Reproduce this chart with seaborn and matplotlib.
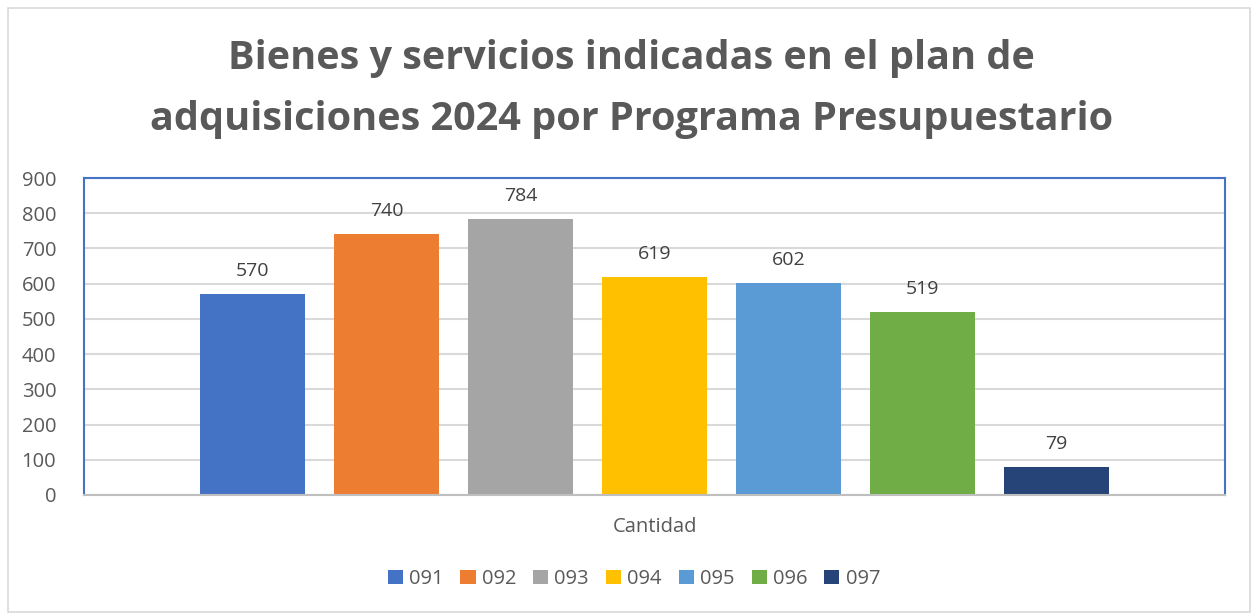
import matplotlib

matplotlib.use("Agg")
import matplotlib.pyplot as plt
import pandas as pd
import seaborn as sns
from matplotlib.patches import Rectangle

PROGRAMS = ["091", "092", "093", "094", "095", "096", "097"]
VALUES = [570, 740, 784, 619, 602, 519, 79]
CATEGORY = "Cantidad"
COLORS = ["#4472C4", "#ED7D31", "#A5A5A5", "#FFC000", "#5B9BD5", "#70AD47", "#264478"]
TITLE = "Bienes y servicios indicadas en el plan de\nadquisiciones 2024 por Programa Presupuestario"

sns.set_theme(style="white")
plt.rcParams["font.family"] = ["Open Sans", "DejaVu Sans"]

df = pd.DataFrame({"categoria": [CATEGORY] * len(PROGRAMS), "programa": PROGRAMS, "valor": VALUES})

fig = plt.figure(figsize=(12.55, 6.15), dpi=100)
ax = fig.add_axes([84 / 1255, 1 - 495 / 615, (1225 - 84) / 1255, (495 - 178) / 615])

sns.barplot(
    data=df, x="categoria", y="valor", hue="programa", palette=COLORS,
    width=0.822, gap=0.21, ax=ax, legend=True, saturation=1, linewidth=0,
)

for container in ax.containers:
    ax.bar_label(container, padding=10, fontsize=14, color="#404040")

ax.set_ylim(0, 900)
ax.set_xlim(-0.5, 0.5)
ax.set_yticks(range(0, 901, 100))
ax.yaxis.grid(True, color="#d9d9d9", linewidth=1.5)
ax.set_axisbelow(True)
ax.set_xlabel("")
ax.set_ylabel("")
ax.tick_params(axis="both", labelsize=14.5, colors="#595959", length=0)
ax.tick_params(axis="y", pad=20)
ax.tick_params(axis="x", pad=16)
for side in ["left", "top", "right"]:
    ax.spines[side].set_color("#4472C4")
    ax.spines[side].set_linewidth(1.5)
ax.spines["bottom"].set_color("#bfbfbf")
ax.spines["bottom"].set_linewidth(1.5)

ax.legend(
    loc="center", bbox_to_anchor=(0.505, 1 - 579 / 615), bbox_transform=fig.transFigure,
    ncol=7, frameon=False, fontsize=14.5, handlelength=0.75, handleheight=0.75,
    handletextpad=0.3, columnspacing=0.85, labelcolor="#595959",
)

fig.text(0.503, 1 - 89 / 615, TITLE, ha="center", va="center", fontsize=28.5,
         fontweight="bold", color="#595959", linespacing=1.72)

fig.patches.append(Rectangle((8 / 1255, 0.005), 1242 / 1255, 1 - 8 / 615 - 0.005,
                             transform=fig.transFigure, fill=False, edgecolor="#d9d9d9", linewidth=1.2))

fig.savefig("out.png", dpi=100, facecolor="white")
